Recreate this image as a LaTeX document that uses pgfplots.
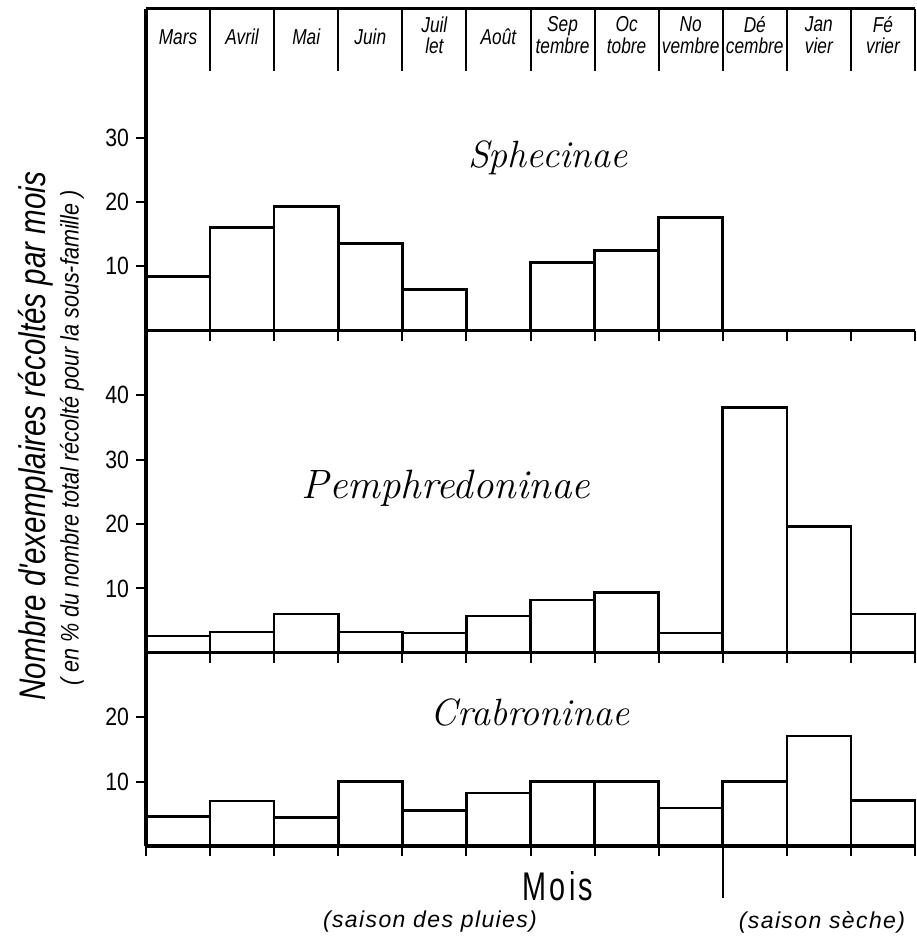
\documentclass[border=0pt]{standalone}
\usepackage{fontspec}
\newfontfamily\lab[FakeStretch=0.85]{Liberation Sans}
\newfontfamily\labn[FakeStretch=0.8]{Liberation Sans}
\newfontfamily\labwide[LetterSpace=6]{Liberation Sans}
\newfontfamily\moisfont[FakeStretch=0.72,LetterSpace=8]{Liberation Sans}
\usepackage{pgfplots}
\pgfplotsset{compat=1.18}
\pgfplotsset{
  panel/.style={
    scale only axis, width=384.5pt,
    xmin=0, xmax=12, ymin=0,
    axis lines=left, axis line style={-, line width=1.6pt},
    xtick={0,...,12}, xticklabels={},
    tick align=outside, major tick length=5pt,
    tick style={line width=1pt, black},
    yticklabel style={font=\lab\fontsize{12.5}{12.5}\selectfont},
    /pgf/number format/assume math mode=true,
    clip=false, axis on top,
  },
  bars/.style={ybar interval, fill=white, draw=black, line width=1.3pt},
}
\tikzset{mlab/.style={font=\labn\itshape\fontsize{10.8}{10.8}\selectfont, align=center, inner sep=1pt}}
\begin{document}
\begin{tikzpicture}
\path[use as bounding box] (0,0) rectangle (458pt,471pt);
% Crabroninae
\begin{axis}[panel, at={(73pt,48pt)}, anchor=south west, height=96.6pt, ymax=30, ytick={10,20}]
\addplot[bars] coordinates {(0,4.6) (1,7.0) (2,4.4) (3,10.0) (4,5.5) (5,8.2) (6,10.0) (7,10.0) (8,5.9) (9,10.0) (10,17.1) (11,7.1) (12,7.1)};
\addplot[line width=1pt] coordinates {(9,0) (9,-8)};
\node[font=\itshape\fontsize{19}{19}\selectfont] at (axis cs:5.99,20.8) {Crabroninae};
\end{axis}
% Pemphredoninae
\begin{axis}[panel, at={(73pt,144.6pt)}, anchor=south west, height=161pt, ymax=50, ytick={10,20,30,40}]
\addplot[bars] coordinates {(0,2.6) (1,3.2) (2,6.0) (3,3.2) (4,3.1) (5,5.7) (6,8.2) (7,9.4) (8,3.1) (9,38.1) (10,19.6) (11,6.0) (12,6.0)};
\node[font=\itshape\fontsize{20.5}{20.5}\selectfont] at (axis cs:4.68,25.6) {Pemphredoninae};
\end{axis}
% Sphecinae
\begin{axis}[panel, at={(73pt,305.6pt)}, anchor=south west, height=161pt, ymax=50, ytick={10,20,30}]
\addplot[bars] coordinates {(0,8.4) (1,16.0) (2,19.3) (3,13.6) (4,6.4) (5,0) (6,10.6) (7,12.5) (8,17.6) (9,0) (10,0) (11,0) (12,0)};
\addplot[line width=1.6pt] coordinates {(0,50) (12,50)};
\pgfplotsinvokeforeach{1,...,12}{\addplot[line width=1pt] coordinates {(#1,40.4) (#1,50)};}
\node[font=\itshape\fontsize{19}{19}\selectfont] at (axis cs:6.27,26.9) {Sphecinae};
\node[mlab] at (axis cs:0.5,45.6) {Mars};
\node[mlab] at (axis cs:1.5,45.6) {Avril};
\node[mlab] at (axis cs:2.5,45.6) {Mai};
\node[mlab] at (axis cs:3.5,45.6) {Juin};
\node[mlab] at (axis cs:4.5,45.9) {Juil\\let};
\node[mlab] at (axis cs:5.5,45.6) {Août};
\node[mlab] at (axis cs:6.5,45.9) {Sep\\tembre};
\node[mlab] at (axis cs:7.5,45.9) {Oc\\tobre};
\node[mlab] at (axis cs:8.5,45.9) {No\\vembre};
\node[mlab] at (axis cs:9.5,45.9) {Dé\\cembre};
\node[mlab] at (axis cs:10.5,45.9) {Jan\\vier};
\node[mlab] at (axis cs:11.5,45.9) {Fé\\vrier};
\end{axis}
% labels
\node[rotate=90, font=\labn\itshape\fontsize{18.5}{18.5}\selectfont] at (18pt,253pt) {Nombre d'exemplaires récoltés par mois};
\node[rotate=90, font=\lab\itshape\fontsize{12.7}{12.7}\selectfont] at (36pt,252pt) {( en \% du nombre total récolté pour la sous-famille )};
\node[font=\moisfont\fontsize{20}{20}\selectfont] at (279pt,27.75pt) {Mois};
\node[font=\labwide\itshape\fontsize{11.5}{11.5}\selectfont] at (215pt,10pt) {(saison des pluies)};
\node[font=\labwide\itshape\fontsize{11.5}{11.5}\selectfont] at (411pt,10pt) {(saison sèche)};
\end{tikzpicture}
\end{document}
